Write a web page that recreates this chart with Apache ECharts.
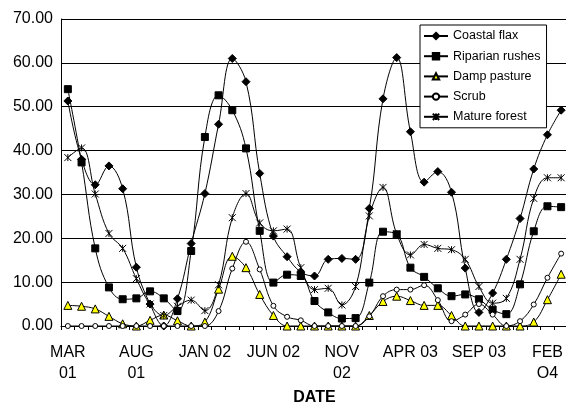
<!DOCTYPE html>
<html>
<head>
<meta charset="utf-8">
<script src="https://cdn.jsdelivr.net/npm/echarts@6/dist/echarts.min.js"></script>
<style>
  html, body { margin: 0; padding: 0; background: #fff; }
  #container { width: 566px; height: 409px; }
</style>
</head>
<body>
<div id="container"></div>
<script>
var dom = document.getElementById("container");
var chart = echarts.init(dom);

// monthly samples, MAR 01 .. MAR 04
var months = [
    "MAR 01", "APR 01", "MAY 01", "JUN 01", "JUL 01", "AUG 01", "SEP 01", "OCT 01", "NOV 01", "DEC 01",
    "JAN 02", "FEB 02", "MAR 02", "APR 02", "MAY 02", "JUN 02", "JUL 02", "AUG 02", "SEP 02", "OCT 02",
    "NOV 02", "DEC 02", "JAN 03", "FEB 03", "MAR 03", "APR 03", "MAY 03", "JUN 03", "JUL 03", "AUG 03",
    "SEP 03", "OCT 03", "NOV 03", "DEC 03", "JAN 04", "FEB 04", "MAR 04"
];

// labels shown under the axis (index -> text)
var tickLabels = {
    0: "MAR\n01", 5: "AUG\n01", 10: "JAN 02", 15: "JUN 02",
    20: "NOV\n02", 25: "APR 03", 30: "SEP 03", 35: "FEB\nO4"
};

var coastalFlax = [51.3, 38.0, 32.2, 36.5, 31.3, 13.4, 5.0, 0, 6.2, 18.8,
    30.2, 46.0, 61.0, 55.7, 34.8, 20.5, 15.8, 12.3, 11.4, 15.2,
    15.4, 15.2, 26.8, 51.8, 61.2, 44.3, 32.8, 35.2, 30.5, 13.2,
    3.1, 7.5, 15.2, 24.5, 35.8, 43.6, 49.2];

var riparianRushes = [54.0, 37.3, 17.7, 8.8, 6.1, 6.3, 7.9, 6.3, 3.4, 17.1,
    43.1, 52.6, 49.2, 40.5, 21.7, 9.9, 11.7, 11.4, 5.7, 3.1,
    1.7, 1.8, 9.9, 21.5, 20.9, 13.3, 11.2, 8.6, 6.8, 7.2,
    6.1, 3.7, 2.7, 9.5, 21.6, 27.3, 27.1];

var dampPasture = [4.7, 4.5, 3.9, 2.2, 0.5, 0, 1.3, 2.5, 1.2, 0,
    0.9, 8.4, 15.9, 13.3, 7.2, 2.4, 0, 0, 0, 0,
    0, 0, 2.4, 5.6, 6.8, 5.8, 4.7, 4.7, 2.4, 0,
    0, 0, 0, 0, 0.9, 6.0, 11.8];

var scrub = [0, 0, 0, 0, 0, 0, 0, 0, 0, 0,
    0, 3.4, 13.1, 19.2, 12.9, 4.6, 2.1, 1.3, 0, 0,
    0, 0, 2.2, 6.8, 8.3, 8.3, 9.3, 5.9, 1.1, 2.6,
    5.0, 2.6, 0, 1.1, 4.9, 11.0, 16.5];

var matureForest = [38.4, 40.6, 30.1, 21.1, 17.7, 10.8, 5.0, 2.4, 4.5, 5.9,
    3.5, 9.4, 24.7, 30.2, 23.5, 21.7, 22.1, 13.3, 8.3, 8.6,
    4.8, 9.0, 25.1, 31.6, 21.0, 16.2, 18.6, 17.7, 17.4, 15.2,
    9.0, 5.2, 6.3, 15.2, 29.1, 33.8, 33.8];

var font = '"Liberation Sans", Arial, sans-serif';
var asterisk = "path://M0,0L10,10M10,0L0,10M5,0L5,10";

function makeSeries(name, data, symbol, size, fill) {
    return {
        name: name,
        type: "line",
        data: data,
        smooth: 0.4,
        symbol: symbol,
        symbolSize: size,
        showAllSymbol: true,
        lineStyle: { color: "#000", width: 1 },
        itemStyle: { color: fill, borderColor: "#000", borderWidth: 1 }
    };
}

var option = {
    animation: false,
    backgroundColor: "#fff",
    textStyle: { fontFamily: font },
    grid: {
        left: 61,
        top: 19,
        width: 507,
        height: 307,
        outerBoundsMode: "none"
    },
    legend: {
        orient: "vertical",
        left: 420,
        top: 25,
        itemWidth: 24,
        itemHeight: 8,
        itemGap: 6.2,
        padding: [4, 6, 4, 3],
        borderColor: "#000",
        borderWidth: 1,
        backgroundColor: "#fff",
        textStyle: { fontSize: 12.5, lineHeight: 14, color: "#000", fontFamily: font },
        data: ["Coastal flax", "Riparian rushes", "Damp pasture", "Scrub", "Mature forest"]
    },
    xAxis: {
        type: "category",
        data: months,
        boundaryGap: true,
        name: "DATE",
        nameLocation: "middle",
        nameGap: 64,
        nameTextStyle: { fontSize: 16, fontWeight: "bold", color: "#000", fontFamily: font },
        axisLine: { lineStyle: { color: "#000", width: 1 } },
        axisTick: { show: true, interval: 0, length: 4, lineStyle: { color: "#000" } },
        axisLabel: {
            interval: 0,
            margin: 16,
            fontSize: 16,
            lineHeight: 21,
            color: "#000",
            fontFamily: font,
            formatter: function (value, index) {
                return tickLabels[index] || "";
            }
        },
        splitLine: { show: false }
    },
    yAxis: {
        type: "value",
        min: 0,
        max: 70,
        interval: 10,
        axisLine: { show: true, lineStyle: { color: "#000", width: 1 } },
        axisTick: { show: false },
        axisLabel: {
            margin: 8,
            fontSize: 16,
            color: "#000",
            fontFamily: font,
            formatter: function (v) {
                return v.toFixed(2);
            }
        },
        splitLine: { show: true, lineStyle: { color: "#000", width: 1 } }
    },
    series: [
        makeSeries("Coastal flax", coastalFlax, "diamond", 8, "#000"),
        makeSeries("Riparian rushes", riparianRushes, "rect", 7, "#000"),
        makeSeries("Damp pasture", dampPasture, "triangle", 8, "#ffff00"),
        makeSeries("Scrub", scrub, "circle", 5, "#fff"),
        makeSeries("Mature forest", matureForest, asterisk, 7, "#000")
    ]
};

chart.setOption(option);
</script>
</body>
</html>
